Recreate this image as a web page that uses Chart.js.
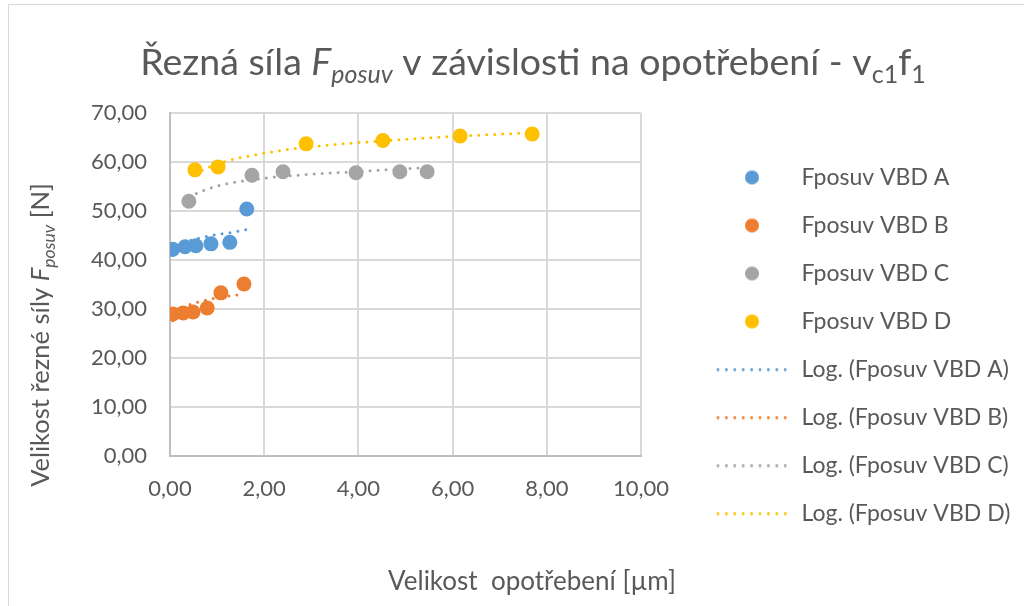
<!DOCTYPE html>
<html lang="cs">
<head>
<meta charset="utf-8">
<title>Řezná síla Fposuv v závislosti na opotřebení</title>
<script src="https://cdn.jsdelivr.net/npm/chart.js@4.4.0/dist/chart.umd.min.js"></script>
<style>
  html, body { margin: 0; padding: 0; background: #fff; }
  #wrap { position: relative; width: 1024px; height: 606px; overflow: hidden; }
  #frame { position: absolute; left: 8px; top: 4px; width: 1100px; height: 700px; border: 1px solid #d9d9d9; box-sizing: border-box; }
</style>
</head>
<body>
<div id="wrap">
  <div id="frame"></div>
  <canvas id="forceChart"></canvas>
</div>
<script>
// opotřebení [µm] a síla Fposuv [N] pro jednotlivé VBD
const wearA  = [0.06, 0.32, 0.55, 0.87, 1.27, 1.63];
const forceA = [42.2, 42.7, 42.9, 43.3, 43.6, 50.4];
const wearB  = [0.06, 0.28, 0.49, 0.79, 1.08, 1.57];
const forceB = [29.0, 29.2, 29.4, 30.2, 33.3, 35.1];
const wearC  = [0.40, 1.74, 2.40, 3.95, 4.88, 5.46];
const forceC = [52.0, 57.3, 58.0, 57.8, 58.0, 58.0];
const wearD  = [0.53, 1.02, 2.89, 4.52, 6.16, 7.69];
const forceD = [58.4, 59.0, 63.7, 64.4, 65.3, 65.7];

// logaritmické spojnice trendu (odečtené body)
const trendWearA  = [0.06, 0.30, 0.60, 1.00, 1.30, 1.63];
const trendForceA = [40.9, 43.4, 44.4, 45.2, 45.6, 46.2];
const trendWearB  = [0.06, 0.30, 0.60, 1.00, 1.30, 1.57];
const trendForceB = [27.6, 30.3, 31.4, 32.3, 32.7, 33.0];
const trendWearC  = [0.40, 1.00, 2.00, 3.00, 4.25, 5.46];
const trendForceC = [53.0, 55.1, 56.7, 57.5, 58.2, 58.9];
const trendWearD  = [0.53, 1.00, 2.00, 3.00, 4.50, 6.00, 7.69];
const trendForceD = [57.6, 59.6, 61.8, 63.1, 64.3, 65.2, 66.0];

const seriesNames = ['Fposuv VBD A', 'Fposuv VBD B', 'Fposuv VBD C', 'Fposuv VBD D'];
const trendNames = ['Log. (Fposuv VBD A)', 'Log. (Fposuv VBD B)', 'Log. (Fposuv VBD C)', 'Log. (Fposuv VBD D)'];
const seriesColors = ['#5B9BD5', '#ED7D31', '#A5A5A5', '#FFC000'];

const xTickValues = [0, 2, 4, 6, 8, 10];
const xTickLabels = ['0,00', '2,00', '4,00', '6,00', '8,00', '10,00'];
const yTickValues = [0, 10, 20, 30, 40, 50, 60, 70];
const yTickLabels = ['0,00', '10,00', '20,00', '30,00', '40,00', '50,00', '60,00', '70,00'];

const FONT = 'Lato, "Open Sans", sans-serif';
const TEXT = '#595959';

// rozměry legendy: začátek ikon, šířka ikony, mezery
const ICON_LEFT = 714;
const LEGEND_PAD = 25;
const LEGEND_BOX = 76;
const LEGEND_FONT = 23;
const PLOT_GAP = ICON_LEFT - LEGEND_PAD - 641;

function toPoints(xs, ys) {
  return xs.map((x, i) => ({ x: x, y: ys[i] }));
}

// ikonky do legendy: kolečko a tečkovaná čára
function dotIcon(color) {
  const c = document.createElement('canvas');
  c.width = 16; c.height = 16;
  const g = c.getContext('2d');
  g.fillStyle = color;
  g.beginPath();
  g.arc(8, 8, 7, 0, Math.PI * 2);
  g.fill();
  return c;
}
function dottedIcon(color) {
  const c = document.createElement('canvas');
  c.width = 72; c.height = 4;
  const g = c.getContext('2d');
  g.strokeStyle = color;
  g.lineWidth = 3;
  g.lineCap = 'round';
  g.setLineDash([0, 8.4]);
  g.beginPath();
  g.moveTo(2, 2);
  g.lineTo(71, 2);
  g.stroke();
  return c;
}

const pointSets = [[wearA, forceA], [wearB, forceB], [wearC, forceC], [wearD, forceD]];
const trendSets = [[trendWearA, trendForceA], [trendWearB, trendForceB], [trendWearC, trendForceC], [trendWearD, trendForceD]];

const datasets = [];
const legendIcons = [];
pointSets.forEach((s, i) => {
  datasets.push({
    type: 'scatter',
    label: seriesNames[i],
    data: toPoints(s[0], s[1]),
    backgroundColor: seriesColors[i],
    borderColor: seriesColors[i],
    borderWidth: 0,
    pointRadius: 7.5,
    pointHoverRadius: 7.5,
    order: 2
  });
  legendIcons.push(dotIcon(seriesColors[i]));
});
trendSets.forEach((s, i) => {
  datasets.push({
    type: 'line',
    label: trendNames[i],
    data: toPoints(s[0], s[1]),
    borderColor: seriesColors[i],
    borderWidth: 3,
    borderDash: [0, 8],
    borderCapStyle: 'round',
    cubicInterpolationMode: 'monotone',
    pointRadius: 0,
    fill: false,
    order: 1
  });
  legendIcons.push(dottedIcon(seriesColors[i]));
});

// šířka legendy podle nejdelšího popisku -> pravý okraj tak, aby ikony začínaly na ICON_LEFT
const measureCtx = document.createElement('canvas').getContext('2d');
measureCtx.font = LEGEND_FONT + 'px ' + FONT;
const longestLabel = Math.max(...seriesNames.concat(trendNames).map(t => measureCtx.measureText(t).width));
const legendWidth = LEGEND_PAD + LEGEND_BOX + LEGEND_FONT / 2 + longestLabel + 10;
const rightPad = Math.max(0, 1024 - (ICON_LEFT - LEGEND_PAD) - legendWidth);

// vypíše text složený z částí (kurzíva, dolní index)
function runsWidth(ctx, runs) {
  let w = 0;
  runs.forEach(r => {
    ctx.font = (r.italic ? 'italic ' : '') + r.size + 'px ' + FONT;
    w += ctx.measureText(r.t).width;
  });
  return w;
}
function drawRuns(ctx, runs, cx, baseY) {
  let x = cx - runsWidth(ctx, runs) / 2;
  ctx.textAlign = 'left';
  ctx.textBaseline = 'alphabetic';
  ctx.fillStyle = TEXT;
  runs.forEach(r => {
    ctx.font = (r.italic ? 'italic ' : '') + r.size + 'px ' + FONT;
    ctx.fillText(r.t, x, baseY + (r.dy || 0));
    x += ctx.measureText(r.t).width;
  });
}

const titleRuns = [
  { t: 'Řezná síla ', size: 37.5 },
  { t: 'F', size: 37.5, italic: true },
  { t: 'posuv', size: 25, italic: true, dy: 8 },
  { t: ' v závislosti na opotřebení - v', size: 37.5 },
  { t: 'c1', size: 25, dy: 8 },
  { t: 'f', size: 37.5 },
  { t: '1', size: 25, dy: 8 }
];
const yTitleRuns = [
  { t: 'Velikost řezné síly ', size: 25.5 },
  { t: 'F', size: 25.5, italic: true },
  { t: 'posuv', size: 17.5, italic: true, dy: 6 },
  { t: ' [N]', size: 25.5 }
];
const xTitleRuns = [
  { t: 'Velikost  opotřebení [µm]', size: 26 }
];

const textPlugin = {
  id: 'chartTexts',
  afterDraw(chart) {
    const ctx = chart.ctx;
    ctx.save();
    drawRuns(ctx, titleRuns, 533, 75);
    drawRuns(ctx, xTitleRuns, 532, 590);
    ctx.translate(49, 335);
    ctx.rotate(-Math.PI / 2);
    drawRuns(ctx, yTitleRuns, 0, 0);
    ctx.restore();
  }
};

new Chart(document.getElementById('forceChart'), {
  data: { datasets: datasets },
  plugins: [textPlugin],
  options: {
    responsive: true,
    maintainAspectRatio: false,
    animation: false,
    devicePixelRatio: 1,
    layout: { padding: { top: 113, left: 0, right: rightPad, bottom: 56 } },
    plugins: {
      tooltip: { enabled: false },
      title: { display: false },
      legend: {
        position: 'right',
        align: 'end',
        maxWidth: 420,
        labels: {
          usePointStyle: true,
          pointStyleWidth: LEGEND_BOX,
          padding: LEGEND_PAD,
          color: TEXT,
          font: { family: FONT, size: LEGEND_FONT },
          generateLabels: chart => chart.data.datasets.map((ds, i) => ({
            text: ds.label,
            pointStyle: legendIcons[i],
            fillStyle: ds.borderColor,
            strokeStyle: ds.borderColor,
            lineWidth: 0,
            hidden: false,
            datasetIndex: i,
            fontColor: TEXT
          }))
        }
      }
    },
    scales: {
      x: {
        type: 'linear',
        position: 'bottom',
        min: 0,
        max: 10,
        afterBuildTicks: s => { s.ticks = xTickValues.map(v => ({ value: v })); },
        afterFit: s => { s.height = 94; },
        ticks: {
          padding: 20,
          color: TEXT,
          font: { family: FONT, size: 22 },
          callback: (v, i) => xTickLabels[i]
        },
        grid: { color: '#d9d9d9', lineWidth: 2, drawTicks: false },
        border: { color: '#bfbfbf', width: 2 }
      },
      y: {
        type: 'linear',
        position: 'left',
        min: 0,
        max: 70,
        afterBuildTicks: s => { s.ticks = yTickValues.map(v => ({ value: v })); },
        afterFit: s => { s.width = 170; },
        ticks: {
          padding: 23,
          color: TEXT,
          font: { family: FONT, size: 22 },
          callback: (v, i) => yTickLabels[i]
        },
        grid: { color: '#d9d9d9', lineWidth: 2, drawTicks: false },
        border: { color: '#bfbfbf', width: 2 }
      },
      gap: {
        type: 'linear',
        position: 'right',
        display: true,
        grid: { display: false, drawTicks: false },
        border: { display: false },
        ticks: { display: false },
        afterFit: s => { s.width = PLOT_GAP; }
      }
    }
  }
});
</script>
</body>
</html>
